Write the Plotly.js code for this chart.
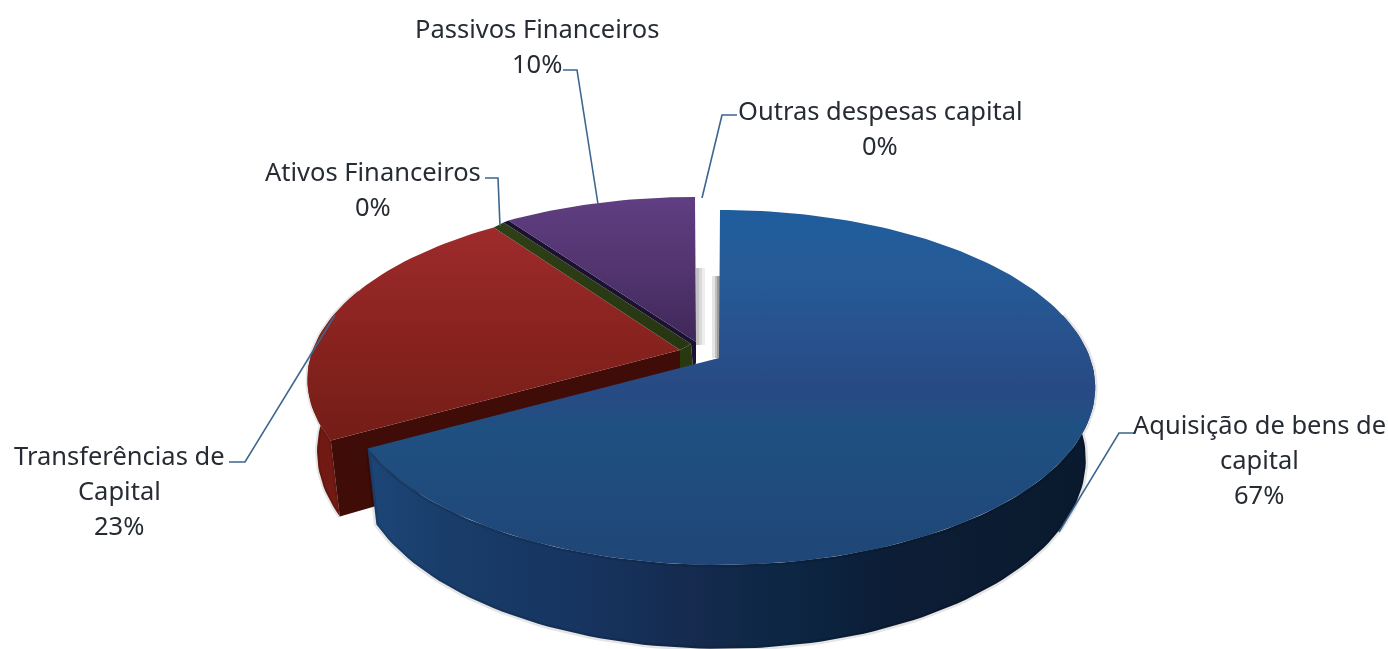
<!DOCTYPE html>
<html>
<head>
<meta charset="utf-8">
<script src="https://cdn.plot.ly/plotly-3.0.1.min.js"></script>
<style>
html,body{margin:0;padding:0;background:#fff;overflow:hidden}
#chart{width:1388px;height:649px}
.main-svg{filter:blur(0.6px)}
</style>
</head>
<body>
<div id="chart"></div>
<script>
// ---- data, clockwise from 12 o'clock ----
const categories = ['Aquisição de bens de capital','Transferências de Capital','Ativos Financeiros','Passivos Financeiros','Outras despesas capital'];
const shares = [67.0, 22.9, 0.4, 9.7, 0.0];

// ---- label layout: how each name is wrapped, and where ----
const nameLines = [
  ['Aquisição de bens de','capital'],
  ['Transferências de','Capital'],
  ['Ativos Financeiros'],
  ['Passivos Financeiros'],
  ['Outras despesas capital']
];
const labelX = [1259, 119, 373, 537, 880];
const labelY = [424, 455, 171, 28, 110];
const lineStep = 35;
const leaderPaths = [
  'M1134,433 L1119,433 L1059,532',
  'M229,462 L245,462 L335,315',
  'M485,178 L498,178 L500,226',
  'M563,70 L577,70 L598,204',
  'M737,115 L722,115 L702,198'
];

// ---- look of the tilted disc ----
const R = 370, r = 172.6, k = 0.166, H = 70, bottomScale = 0.975;
const rimGeo = [
  {cx:720, cy:358, sx:1},
  {cx:692, cy:350, sx:1.025},
  {cx:692, cy:350, sx:1.025},
  {cx:695, cy:345, sx:1},
  {cx:695, cy:345, sx:1}
];
const apexA = [[719,358],[680,350],[680,350],[696,342],[696,342]];
const apexB = [[719,358],[680,350],[691,344],[696,342],[696,342]];
// stops listed top of the picture first
const topFill = [
  [[0,'#1f5d9d'],[0.2,'#265a96'],[0.5,'#284a84'],[0.62,'#1f5082'],[1,'#1f4676']],
  [[0,'#9e2b2b'],[0.5,'#89231f'],[1,'#741d17']],
  [[0,'#2f4016'],[1,'#263612']],
  [[0,'#603e82'],[0.5,'#52346f'],[1,'#3f2859']],
  [[0,'#ffffff'],[1,'#ffffff']]
];
const sideFill = [
  [[0,'#1c4677'],[0.12,'#193c69'],[0.3,'#16345f'],[0.45,'#152a4e'],[0.58,'#0c2643'],[0.72,'#0c1d36'],[1,'#0a1a2d']],
  [[0,'#6e1812'],[1,'#7a1c15']],
  [[0,'#2a3a14'],[1,'#2a3a14']],
  [[0,'#3a2450'],[1,'#3a2450']],
  [[0,'#ffffff'],[1,'#ffffff']]
];
const wallFill = ['#1c4677','#3f0c08','#29380f','#1a1230','#ffffff'];

function project(deg, g, low){
  const t = deg*Math.PI/180, u = Math.sin(t), v = -Math.cos(t), w = 1-k*v;
  let x = g.cx + R*g.sx*u/w, y = g.cy + r*v/w;
  if(low){ x = g.cx + (x-g.cx)*bottomScale; y += H/w; }
  return [x,y];
}
function arc(a,b,g,low){
  const pts=[], n=Math.max(1,Math.ceil(Math.abs(b-a)/1.5));
  for(let i=0;i<=n;i++) pts.push(project(a+(b-a)*i/n,g,low));
  return pts;
}
function poly(name,pts,fill,extra){
  const closed = pts.concat([pts[0]]);
  return Object.assign({type:'scatter',mode:'lines',name:name,x:closed.map(p=>p[0]),y:closed.map(p=>p[1]),
    fill:'toself',line:{width:0,color:'rgba(0,0,0,0)'},hoverinfo:'name',showlegend:false},fill,extra||{});
}
const grad=(type,cs)=>({fillgradient:{type:type,colorscale:cs}});
const vgrad=cs=>grad('vertical',cs.map(s=>[1-s[0],s[1]]).reverse());
const solid=c=>({fillcolor:c});

// slice angle ranges from the shares
const total = shares.reduce((a,b)=>a+b,0);
const ranges=[]; let run=0;
shares.forEach(s=>{ranges.push([run/total*360,(run+s)/total*360]); run+=s;});

function sidePts(i,a,b){ return arc(a,b,rimGeo[i],false).concat(arc(b,a,rimGeo[i],true)); }
function topPts(i){
  const [a,b]=ranges[i];
  return [apexA[i]].concat(arc(a,b,rimGeo[i],false)).concat([apexB[i]]);
}
function wallPts(i){
  const [a]=ranges[i], g=rimGeo[i], p=project(a,g,false), q=project(a,g,true), A=apexA[i];
  return [A,p,q,[A[0],A[1]+H*0.98]];
}
const traces=[];
// transfers: outer side, cut wall, top
traces.push(poly(categories[1],sidePts(1,ranges[1][0],ranges[1][0]+50),grad('horizontal',sideFill[1]),{line:{width:4,color:'rgba(0,0,0,0.10)'}}));
traces.push(poly(categories[1],wallPts(1),solid(wallFill[1])));
traces.push(poly(categories[1],topPts(1),vgrad(topFill[1])));
// financial assets: thin wall + top, bridging the rims of its two neighbours
traces.push(poly(categories[2],[apexA[2],apexB[2],[apexB[2][0]+2,apexB[2][1]+H*0.34],[apexA[2][0],apexA[2][1]+H*0.5]],solid(wallFill[2])));
const assetEdge = project(ranges[2][1],rimGeo[3],false);
traces.push(poly(categories[2],[apexA[2],project(ranges[2][0],rimGeo[2],false),[assetEdge[0]-5,assetEdge[1]+2],apexB[2]],vgrad(topFill[2])));
// financial liabilities: dark cut wall + top
traces.push(poly(categories[3],[apexA[3],assetEdge,[assetEdge[0]-5,assetEdge[1]+2],apexB[2],[apexB[2][0]+2,apexB[2][1]+H*0.34],[apexA[3][0],apexA[3][1]+H*0.3]],solid(wallFill[3])));
traces.push(poly(categories[3],topPts(3),vgrad(topFill[3])));
// other: zero share
traces.push(poly(categories[4],topPts(4),solid('rgba(255,255,255,0)')));
// capital goods: side and top, exploded in front
traces.push(poly(categories[0],sidePts(0,75,ranges[0][1]),grad('horizontal',sideFill[0]),{line:{width:5,color:'rgba(0,0,0,0.10)'}}));
traces.push(poly(categories[0],topPts(0),vgrad(topFill[0])));

// labels
const annotations=[];
categories.forEach((c,i)=>{
  const lines=nameLines[i].concat([Math.round(shares[i]/total*100)+'%']);
  lines.forEach((t,j)=>annotations.push({xref:'x',yref:'y',x:labelX[i],y:labelY[i]+j*lineStep,text:t,showarrow:false,
    xanchor:'center',yanchor:'middle',font:{family:'"Noto Sans", sans-serif',size:25.5,color:'#272c34'}}));
});
const shapes=leaderPaths.map(p=>({type:'path',path:p,xref:'x',yref:'y',line:{color:'#3d668f',width:1.6},layer:'above'}));
// soft shadow in the gap between slices
[[696,705,0.10],[696,702,0.14],[696,699,0.18]].forEach(s=>shapes.push({type:'rect',xref:'x',yref:'y',x0:s[0],x1:s[1],y0:268,y1:345,fillcolor:'rgba(90,90,90,'+s[2]+')',line:{width:0},layer:'below'}));
[[712,720,0.14],[715,720,0.22],[717,720,0.3]].forEach(s=>shapes.push({type:'rect',xref:'x',yref:'y',x0:s[0],x1:s[1],y0:276,y1:358,fillcolor:'rgba(70,70,70,'+s[2]+')',line:{width:0},layer:'below'}));

Plotly.newPlot('chart',traces,{
  width:1388,height:649,margin:{l:0,r:0,t:0,b:0},paper_bgcolor:'#ffffff',plot_bgcolor:'#ffffff',
  xaxis:{range:[0,1388],visible:false,fixedrange:true},
  yaxis:{range:[649,0],visible:false,fixedrange:true},
  showlegend:false,annotations:annotations,shapes:shapes
},{displayModeBar:false,staticPlot:true});
</script>
</body>
</html>
